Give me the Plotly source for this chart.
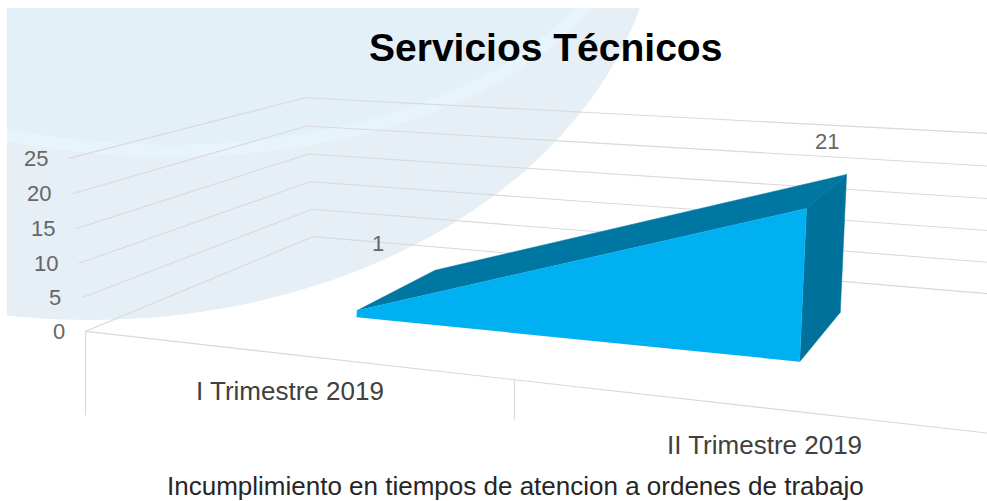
import numpy as np
import plotly.graph_objects as go

# ---- data ----
categories = ["I Trimestre 2019", "II Trimestre 2019"]
values = [1, 21]
value_ticks = [0, 5, 10, 15, 20, 25]
title_text = "Servicios Técnicos"
axis_title = "Incumplimiento en tiempos de atencion a ordenes de trabajo"

W, H = 987, 501
FRONT, BACK = 0.3, 0.72   # depth of the area slab inside the floor


# Perspective cameras of the 3-D chart: (category, depth, value) -> page pixels,
# solved from reference corners of the frame and of the slab's placement.
def camera(pairs):
    A, b = [], []
    for (u, d, v), (px, py) in pairs:
        A.append([u, d, v, 1, 0, 0, 0, 0, -px * u, -px * d, -px * v]); b.append(px)
        A.append([0, 0, 0, 0, u, d, v, 1, -py * u, -py * d, -py * v]); b.append(py)
    m = np.linalg.lstsq(np.array(A, float), np.array(b, float), rcond=None)[0]
    return np.append(m, 1).reshape(3, 4)


wall_cam = camera([((0, 0, 0), (85, 331)), ((0, 1, 0), (314, 236)), ((0, 1, 25), (305, 98)),
                   ((0, 0, 25), (69, 159)), ((1, 0, 0), (515, 380)), ((2, 0, 0), (1045, 439)),
                   ((2, 1, 0), (1082, 303)), ((2, 1, 25), (1093, 138))])
slab_cam = camera([((.5, FRONT, 0), (357, 318)), ((.5, FRONT, 1), (357, 310)),
                   ((1.5, FRONT, 0), (800, 362)), ((1.5, FRONT, 21), (806, 208)),
                   ((1.5, BACK, 0), (840, 312)), ((1.5, BACK, 21), (847, 175)),
                   ((.5, BACK, 1), (435, 270))])


def proj(points, cam=wall_cam):
    p = cam @ np.c_[np.array(points, float), np.ones(len(points))].T
    return (p[0] / p[2]).tolist(), (p[1] / p[2]).tolist()


fig = go.Figure()
GRID = "#D9D9D9"


def line(points, width=1.1):
    x, y = proj(points)
    fig.add_trace(go.Scatter(x=x, y=y, mode="lines", line=dict(color=GRID, width=width),
                             hoverinfo="skip", showlegend=False))


def face(points, color):
    x, y = proj(points, slab_cam)
    fig.add_trace(go.Scatter(x=x, y=y, mode="lines", fill="toself", fillcolor=color,
                             line=dict(color=color, width=0.5), hoverinfo="skip", showlegend=False))


for t in value_ticks:
    line([(0, 0, t), (0, 1, t), (2, 1, t)])
line([(0, 0, 0), (2, 0, 0)])
# category separators hang straight down from the floor edge
for uu, drop in zip((0, 1), (84, 40)):
    x, y = proj([(uu, 0, 0)])
    fig.add_trace(go.Scatter(x=[x[0], x[0]], y=[y[0], y[0] + drop], mode="lines",
                             line=dict(color=GRID, width=1.1), hoverinfo="skip", showlegend=False))

u0, u1 = 0.5, 1.5
v0, v1 = values
DARK = "#0077A3"
face([(u0, FRONT, v0), (u0, BACK, v0), (u1, BACK, v1), (u1, FRONT, v1)], DARK)
face([(u1, FRONT, 0), (u1, BACK, 0), (u1, BACK, v1), (u1, FRONT, v1)], "#00719B")
face([(u0, FRONT, 0), (u0, FRONT, v0), (u1, FRONT, v1), (u1, FRONT, 0)], "#00B0F0")

GREY = "#666666"
ann = []
for t in value_ticks:
    x, y = proj([(0, 0, t)])
    ann.append(dict(x=x[0] - 19, y=y[0], text=str(t), xanchor="right", yanchor="middle",
                    showarrow=False, font=dict(size=22, color=GREY)))
for uu, val in zip((u0, u1), values):
    x, y = proj([(uu, FRONT, val)], slab_cam)
    ann.append(dict(x=x[0] + 20.5, y=y[0] - 67, text=str(val), xanchor="center", yanchor="middle",
                    showarrow=False, font=dict(size=22, color=GREY)))
for name, (cx, cy) in zip(categories, [(290, 391), (764, 445)]):
    ann.append(dict(x=cx, y=cy, text=name, xanchor="center", yanchor="middle",
                    showarrow=False, font=dict(size=26, color="#404040")))
ann.append(dict(x=515, y=485.5, text=axis_title, xanchor="center", yanchor="middle",
                showarrow=False, font=dict(size=26, color="#262626")))
ann.append(dict(x=545, y=47, text="<b>%s</b>" % title_text, xanchor="center", yanchor="middle",
                showarrow=False, font=dict(size=39, color="#000000")))

ell = lambda cx, cy, a, b_, c: dict(type="circle", xref="x", yref="y", x0=cx - a, x1=cx + a,
                                    y0=cy - b_, y1=cy + b_, fillcolor=c, line_width=0, layer="below")
rect = lambda x0, y0, x1, y1: dict(type="rect", xref="x", yref="y", x0=x0, x1=x1, y0=y0, y1=y1,
                                   fillcolor="white", line_width=0, layer="below")
shapes = [ell(90, -100, 569, 420, "#E6EEF6"),
          ell(170, -100, 465, 257, "#E8F4FB"),
          ell(170, -100, 450, 245, "#E3F0F8"),
          rect(-5, -5, 7, 340), rect(-5, -5, 700, 8)]

fig.update_layout(width=W, height=H, margin=dict(l=0, r=0, t=0, b=0), autosize=False,
                  paper_bgcolor="white", plot_bgcolor="white",
                  font=dict(family="Liberation Sans, Arial, sans-serif"),
                  xaxis=dict(range=[0, W], visible=False, fixedrange=True),
                  yaxis=dict(range=[H, 0], visible=False, fixedrange=True),
                  shapes=shapes, annotations=ann, showlegend=False)
fig.write_html("out.html", config=dict(displayModeBar=False),
               post_script="document.body.style.margin='0';document.body.style.overflow='hidden';")
